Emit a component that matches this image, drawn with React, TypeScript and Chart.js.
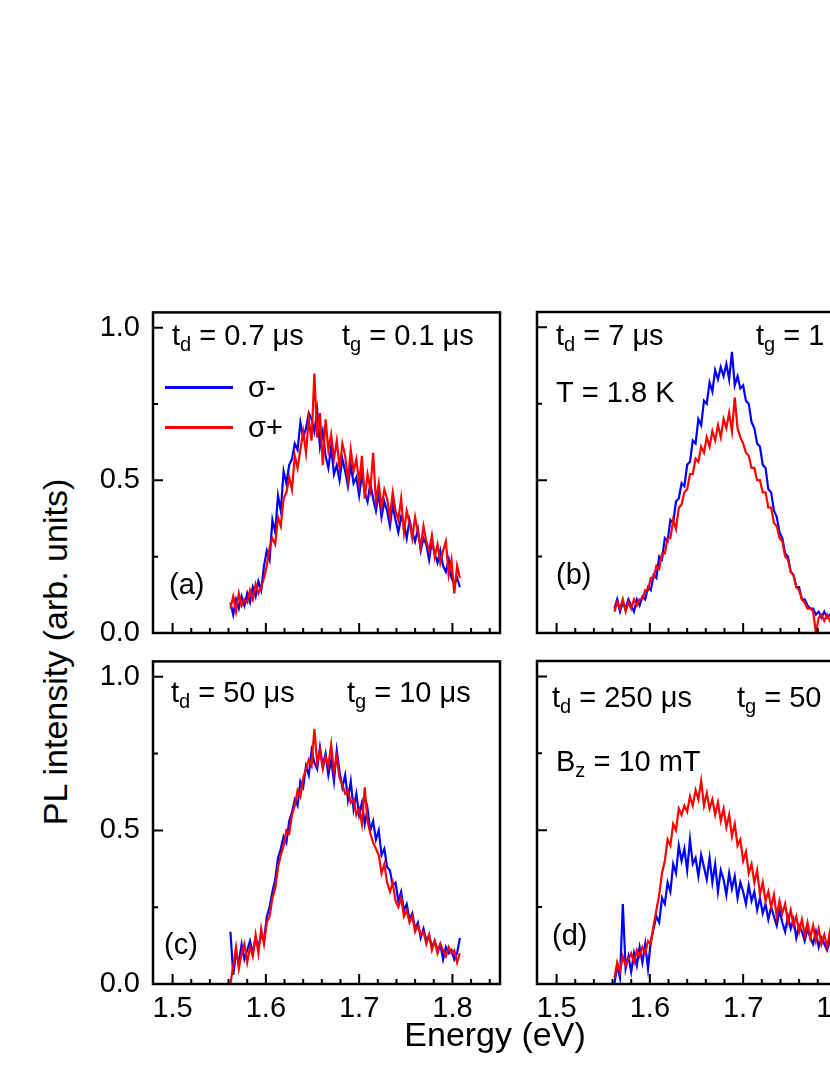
import React, { useEffect, useRef } from "react";
import { Chart, registerables } from "chart.js";

Chart.register(...registerables);

// ---------------- data ----------------
const ENERGY = [
  1.562, 1.565, 1.568, 1.571, 1.574, 1.577, 1.58, 1.583, 1.586, 1.589,
  1.592, 1.595, 1.598, 1.601, 1.604, 1.607, 1.61, 1.613, 1.616, 1.619,
  1.622, 1.625, 1.628, 1.631, 1.634, 1.637, 1.64, 1.643, 1.646, 1.649,
  1.652, 1.655, 1.658, 1.661, 1.664, 1.667, 1.67, 1.673, 1.676, 1.679,
  1.682, 1.685, 1.688, 1.691, 1.694, 1.697, 1.7, 1.703, 1.706, 1.709,
  1.712, 1.715, 1.718, 1.721, 1.724, 1.727, 1.73, 1.733, 1.736, 1.739,
  1.742, 1.745, 1.748, 1.751, 1.754, 1.757, 1.76, 1.763, 1.766, 1.769,
  1.772, 1.775, 1.778, 1.781, 1.784, 1.787, 1.79, 1.793, 1.796, 1.799,
  1.802, 1.805, 1.808,
];

// (a) td = 0.7 us
const BLUE_A = [
  0.10, 0.06, 0.11, 0.08, 0.12, 0.09, 0.13, 0.10, 0.15, 0.12,
  0.17, 0.14, 0.22, 0.27, 0.24, 0.37, 0.33, 0.45, 0.40, 0.53,
  0.49, 0.55, 0.57, 0.62, 0.60, 0.69, 0.64, 0.67, 0.72, 0.70,
  0.66, 0.73, 0.61, 0.66, 0.58, 0.54, 0.61, 0.52, 0.55, 0.50,
  0.57, 0.53, 0.48, 0.55, 0.49, 0.51, 0.45, 0.52, 0.46, 0.43,
  0.49, 0.44, 0.40, 0.46, 0.38, 0.43, 0.40, 0.35, 0.42, 0.37,
  0.33, 0.38, 0.36, 0.31, 0.37, 0.33, 0.30, 0.34, 0.27, 0.31,
  0.29, 0.24, 0.30, 0.26, 0.23, 0.27, 0.22, 0.20, 0.24, 0.18,
  0.16, 0.18, 0.15,
];
const RED_A = [
  0.08, 0.12, 0.07, 0.13, 0.09, 0.11, 0.10, 0.14, 0.11, 0.16,
  0.13, 0.15, 0.18, 0.22, 0.28, 0.31, 0.29, 0.38, 0.35, 0.44,
  0.46, 0.51, 0.47, 0.58, 0.54, 0.60, 0.66, 0.59, 0.70, 0.63,
  0.85, 0.64, 0.72, 0.55, 0.70, 0.60, 0.65, 0.57, 0.63, 0.54,
  0.62, 0.58, 0.50, 0.60, 0.53, 0.57, 0.49, 0.58, 0.44, 0.52,
  0.47, 0.59, 0.43, 0.49, 0.41, 0.47, 0.44, 0.38, 0.46, 0.40,
  0.37, 0.44, 0.33, 0.40, 0.36, 0.31, 0.38, 0.33, 0.28, 0.35,
  0.30, 0.27, 0.32, 0.25, 0.29, 0.23, 0.27, 0.30, 0.19, 0.24,
  0.13, 0.22, 0.18,
];

// (b) td = 7 us
const BLUE_B = [
  0.08, 0.11, 0.07, 0.10, 0.08, 0.11, 0.09, 0.07, 0.11, 0.09,
  0.12, 0.11, 0.15, 0.14, 0.19, 0.18, 0.25, 0.24, 0.31, 0.30,
  0.37, 0.36, 0.43, 0.44, 0.49, 0.48, 0.55, 0.56, 0.63, 0.62,
  0.70, 0.68, 0.76, 0.75, 0.82, 0.79, 0.86, 0.83, 0.87, 0.84,
  0.88, 0.83, 0.92, 0.81, 0.84, 0.80, 0.81, 0.76, 0.75, 0.69,
  0.67, 0.62, 0.61, 0.55, 0.54, 0.47, 0.46, 0.40, 0.38, 0.33,
  0.31, 0.26, 0.25, 0.20, 0.19, 0.15, 0.15, 0.11, 0.11, 0.09,
  0.08, 0.08, 0.06, 0.07, 0.05, 0.07, 0.05, 0.06, 0.04, 0.06,
  0.05, 0.04, 0.05,
];
const RED_B = [
  0.07, 0.10, 0.08, 0.11, 0.07, 0.10, 0.08, 0.11, 0.09, 0.11,
  0.11, 0.14, 0.14, 0.18, 0.18, 0.22, 0.21, 0.26, 0.26, 0.31,
  0.31, 0.37, 0.34, 0.41, 0.42, 0.46, 0.47, 0.52, 0.52, 0.57,
  0.56, 0.61, 0.59, 0.64, 0.61, 0.66, 0.63, 0.68, 0.64, 0.70,
  0.67, 0.72, 0.66, 0.77, 0.67, 0.64, 0.62, 0.59, 0.58, 0.54,
  0.54, 0.50, 0.50, 0.46, 0.46, 0.41, 0.41, 0.36, 0.35, 0.31,
  0.30, 0.25, 0.24, 0.20, 0.19, 0.15, 0.14, 0.11, 0.10, 0.08,
  0.08, 0.07, 0.00, 0.05, 0.06, 0.04, 0.06, 0.04, 0.06, 0.04,
  0.05, 0.04, 0.05,
];

// (c) td = 50 us
const BLUE_C = [
  0.17, 0.03, 0.10, 0.07, 0.13, 0.08, 0.11, 0.14, 0.10, 0.15,
  0.12, 0.16, 0.14, 0.22, 0.25, 0.30, 0.34, 0.41, 0.44, 0.48,
  0.46, 0.53, 0.56, 0.60, 0.58, 0.66, 0.64, 0.71, 0.68, 0.76,
  0.72, 0.70, 0.77, 0.71, 0.75, 0.68, 0.73, 0.66, 0.76, 0.69,
  0.64, 0.68, 0.60, 0.66, 0.57, 0.62, 0.55, 0.59, 0.52, 0.57,
  0.50, 0.53, 0.47, 0.50, 0.42, 0.44, 0.38, 0.37, 0.32, 0.33,
  0.27, 0.30, 0.24, 0.26, 0.21, 0.23, 0.18, 0.20, 0.15, 0.18,
  0.14, 0.16, 0.12, 0.14, 0.11, 0.13, 0.08, 0.12, 0.10, 0.11,
  0.08, 0.10, 0.15,
];
const RED_C = [
  0.00, 0.06, 0.12, 0.05, 0.10, 0.13, 0.07, 0.12, 0.09, 0.16,
  0.10, 0.18, 0.13, 0.20, 0.22, 0.28, 0.31, 0.38, 0.42, 0.45,
  0.50, 0.49, 0.55, 0.58, 0.63, 0.61, 0.67, 0.70, 0.73, 0.71,
  0.83, 0.72, 0.76, 0.70, 0.74, 0.71, 0.78, 0.69, 0.74, 0.67,
  0.65, 0.62, 0.63, 0.59, 0.60, 0.55, 0.57, 0.52, 0.64, 0.53,
  0.49, 0.46, 0.44, 0.42, 0.36, 0.39, 0.33, 0.30, 0.33, 0.27,
  0.25, 0.28, 0.22, 0.24, 0.20, 0.22, 0.17, 0.19, 0.16, 0.17,
  0.13, 0.16, 0.11, 0.14, 0.10, 0.13, 0.11, 0.09, 0.12, 0.10,
  0.11, 0.07, 0.10,
];

// (d) td = 250 us
const BLUE_D = [
  0.00, 0.06, 0.02, 0.26, 0.05, 0.09, 0.04, 0.10, 0.06, 0.12,
  0.07, 0.13, 0.05, 0.14, 0.18, 0.22, 0.20, 0.28, 0.26, 0.33,
  0.30, 0.39, 0.36, 0.45, 0.40, 0.44, 0.37, 0.47, 0.39, 0.41,
  0.35, 0.42, 0.38, 0.34, 0.41, 0.33, 0.39, 0.30, 0.37, 0.34,
  0.29, 0.36, 0.31, 0.35, 0.28, 0.33, 0.30, 0.26, 0.32, 0.27,
  0.30, 0.24, 0.28, 0.23, 0.26, 0.21, 0.25, 0.22, 0.19, 0.24,
  0.20, 0.17, 0.22, 0.18, 0.21, 0.15, 0.19, 0.17, 0.14, 0.18,
  0.15, 0.13, 0.17, 0.12, 0.15, 0.13, 0.11, 0.14, 0.12, 0.13,
  0.11, 0.13, 0.12,
];
const RED_D = [
  0.02, 0.07, 0.04, 0.09, 0.06, 0.08, 0.10, 0.07, 0.11, 0.09,
  0.12, 0.10, 0.14, 0.13, 0.19, 0.24, 0.29, 0.36, 0.40, 0.47,
  0.45, 0.52, 0.50, 0.57, 0.55, 0.58, 0.56, 0.61, 0.58, 0.63,
  0.60, 0.66, 0.58, 0.62, 0.57, 0.60, 0.55, 0.59, 0.53, 0.57,
  0.51, 0.55, 0.48, 0.52, 0.45, 0.47, 0.40, 0.43, 0.36, 0.39,
  0.33, 0.37, 0.29, 0.33, 0.27, 0.30, 0.25, 0.29, 0.22, 0.27,
  0.23, 0.26, 0.20, 0.24, 0.19, 0.22, 0.17, 0.21, 0.16, 0.20,
  0.15, 0.19, 0.14, 0.18, 0.13, 0.16, 0.12, 0.17, 0.11, 0.14,
  0.12, 0.10, 0.13,
];

const SERIES_LABELS = ["σ-", "σ+"];
const X_MAJOR = [1.5, 1.6, 1.7, 1.8];
const X_MINOR = [1.52, 1.54, 1.56, 1.58, 1.62, 1.64, 1.66, 1.68, 1.72, 1.74, 1.76, 1.78, 1.82, 1.84];
const Y_MAJOR = [0, 0.5, 1.0];
const Y_MINOR = [0.25, 0.75];
const X_MIN = 1.479;
const X_MAX = 1.851;
const Y_MAX = 1.05;

const Y_TITLE = "PL intensity (arb. units)";
const X_TITLE = "Energy (eV)";

// ---------------- layout / style ----------------
const FONT = '"Liberation Sans", Arial, Helvetica, sans-serif';
const BLUE = "#0000ff";
const RED = "#ff0000";
const PLOT_W = 347;
const YW = 70;
const XH = 60;
const PT = 30;
const PR = 30;
const MAIN_PX = 29;
const SUB_PX = 20;

type Part = { t: string; sub?: boolean };
type Note = { dx: number; dy: number; parts: Part[] };

const PANELS = [
  {
    key: "a", left: 153, top: 312, h: 321, blue: BLUE_A, red: RED_A, showX: false, showY: true, legend: true,
    notes: [
      { dx: 19, dy: 33, parts: [{ t: "t" }, { t: "d", sub: true }, { t: " = 0.7 μs" }] },
      { dx: 189, dy: 33, parts: [{ t: "t" }, { t: "g", sub: true }, { t: " = 0.1 μs" }] },
      { dx: 16, dy: 282, parts: [{ t: "(a)" }] },
    ] as Note[],
  },
  {
    key: "b", left: 537, top: 312, h: 321, blue: BLUE_B, red: RED_B, showX: false, showY: false, legend: false,
    notes: [
      { dx: 19, dy: 33, parts: [{ t: "t" }, { t: "d", sub: true }, { t: " = 7 μs" }] },
      { dx: 219, dy: 33, parts: [{ t: "t" }, { t: "g", sub: true }, { t: " = 1 μs" }] },
      { dx: 19, dy: 90, parts: [{ t: "T = 1.8 K" }] },
      { dx: 19, dy: 272, parts: [{ t: "(b)" }] },
    ] as Note[],
  },
  {
    key: "c", left: 153, top: 661, h: 323, blue: BLUE_C, red: RED_C, showX: true, showY: true, legend: false,
    notes: [
      { dx: 18, dy: 41, parts: [{ t: "t" }, { t: "d", sub: true }, { t: " = 50 μs" }] },
      { dx: 194, dy: 41, parts: [{ t: "t" }, { t: "g", sub: true }, { t: " = 10 μs" }] },
      { dx: 11, dy: 293, parts: [{ t: "(c)" }] },
    ] as Note[],
  },
  {
    key: "d", left: 537, top: 661, h: 323, blue: BLUE_D, red: RED_D, showX: true, showY: false, legend: false,
    notes: [
      { dx: 15, dy: 46, parts: [{ t: "t" }, { t: "d", sub: true }, { t: " = 250 μs" }] },
      { dx: 200, dy: 46, parts: [{ t: "t" }, { t: "g", sub: true }, { t: " = 50 μs" }] },
      { dx: 19, dy: 110, parts: [{ t: "B" }, { t: "z", sub: true }, { t: " = 10 mT" }] },
      { dx: 15, dy: 284, parts: [{ t: "(d)" }] },
    ] as Note[],
  },
];

function makeFramePlugin(notes: Note[], legend: boolean) {
  return {
    id: "frameAndNotes",
    afterDatasetsDraw(chart: any) {
      const { ctx, chartArea: a, scales } = chart;
      const x = scales.x;
      const y = scales.y;
      ctx.save();
      ctx.strokeStyle = "#000";
      ctx.lineWidth = 2.5;
      ctx.strokeRect(a.left, a.top, a.right - a.left, a.bottom - a.top);
      ctx.lineWidth = 2;
      ctx.beginPath();
      X_MAJOR.forEach((v) => {
        const px = x.getPixelForValue(v);
        ctx.moveTo(px, a.bottom);
        ctx.lineTo(px, a.bottom - 10);
      });
      X_MINOR.forEach((v) => {
        const px = x.getPixelForValue(v);
        ctx.moveTo(px, a.bottom);
        ctx.lineTo(px, a.bottom - 5);
      });
      Y_MAJOR.forEach((v) => {
        const py = y.getPixelForValue(v);
        ctx.moveTo(a.left, py);
        ctx.lineTo(a.left + 10, py);
      });
      Y_MINOR.forEach((v) => {
        const py = y.getPixelForValue(v);
        ctx.moveTo(a.left, py);
        ctx.lineTo(a.left + 5, py);
      });
      ctx.stroke();

      ctx.fillStyle = "#000";
      ctx.textBaseline = "alphabetic";
      ctx.textAlign = "left";
      notes.forEach((n) => {
        let cx = a.left + n.dx;
        const by = a.top + n.dy;
        n.parts.forEach((p) => {
          ctx.font = p.sub ? `${SUB_PX}px ${FONT}` : `${MAIN_PX}px ${FONT}`;
          ctx.fillText(p.t, cx, p.sub ? by + 6 : by);
          cx += ctx.measureText(p.t).width;
        });
      });

      if (legend) {
        const ds = chart.data.datasets;
        const rows = [
          { ds: ds[1], dy: 75, tdy: 85 },
          { ds: ds[0], dy: 115, tdy: 125 },
        ];
        rows.forEach((r) => {
          ctx.strokeStyle = r.ds.borderColor;
          ctx.lineWidth = 3;
          ctx.beginPath();
          ctx.moveTo(a.left + 12, a.top + r.dy);
          ctx.lineTo(a.left + 80, a.top + r.dy);
          ctx.stroke();
          ctx.font = `${MAIN_PX}px ${FONT}`;
          ctx.fillStyle = "#000";
          ctx.fillText(r.ds.label, a.left + 95, a.top + r.tdy);
        });
      }
      ctx.restore();
    },
  };
}

function Panel({ p }: { p: (typeof PANELS)[number] }) {
  const ref = useRef<HTMLCanvasElement>(null);
  const W = YW + PLOT_W + PR;
  const H = PT + p.h + XH;
  useEffect(() => {
    const toPts = (vals: number[]) => ENERGY.map((e, i) => ({ x: e, y: vals[i] }));
    const chart = new Chart(ref.current as HTMLCanvasElement, {
      type: "line",
      data: {
        datasets: [
          {
            label: SERIES_LABELS[1],
            data: toPts(p.red),
            borderColor: RED,
            backgroundColor: RED,
            borderWidth: 2.2,
            pointRadius: 0,
            tension: 0,
            order: 0,
          },
          {
            label: SERIES_LABELS[0],
            data: toPts(p.blue),
            borderColor: BLUE,
            backgroundColor: BLUE,
            borderWidth: 2.2,
            pointRadius: 0,
            tension: 0,
            order: 1,
          },
        ],
      },
      options: {
        responsive: false,
        animation: false,
        events: [],
        layout: { padding: { top: PT, right: PR, left: 0, bottom: 0 } },
        plugins: { legend: { display: false }, tooltip: { enabled: false } },
        scales: {
          x: {
            type: "linear",
            min: X_MIN,
            max: X_MAX,
            grid: { display: false, drawTicks: false },
            border: { display: false },
            ticks: {
              display: p.showX,
              padding: 8,
              color: "#000",
              font: { family: FONT, size: MAIN_PX },
              callback: (v: any) => Number(v).toFixed(1),
            },
            afterBuildTicks: (s: any) => {
              s.ticks = X_MAJOR.map((v) => ({ value: v }));
            },
            afterFit: (s: any) => {
              s.height = XH;
            },
          },
          y: {
            type: "linear",
            min: 0,
            max: Y_MAX,
            grid: { display: false, drawTicks: false },
            border: { display: false },
            ticks: {
              display: p.showY,
              padding: 13,
              color: "#000",
              font: { family: FONT, size: MAIN_PX },
              callback: (v: any) => Number(v).toFixed(1),
            },
            afterBuildTicks: (s: any) => {
              s.ticks = Y_MAJOR.map((v) => ({ value: v }));
            },
            afterFit: (s: any) => {
              s.width = YW;
            },
          },
        },
      },
      plugins: [makeFramePlugin(p.notes, p.legend)],
    } as any);
    return () => chart.destroy();
  }, []);
  return (
    <canvas
      ref={ref}
      width={W}
      height={H}
      style={{ position: "absolute", left: p.left - YW, top: p.top - PT, width: W, height: H }}
    />
  );
}

export default function App() {
  return (
    <div
      style={{
        position: "absolute",
        left: 0,
        top: 0,
        width: 830,
        height: 1075,
        overflow: "hidden",
        background: "#fff",
      }}
    >
      {PANELS.map((p) => (
        <Panel key={p.key} p={p} />
      ))}
      <div
        style={{
          position: "absolute",
          left: 55,
          top: 652,
          fontFamily: FONT,
          fontSize: 34,
          lineHeight: "34px",
          whiteSpace: "nowrap",
          color: "#000",
          transform: "translate(-50%, -50%) rotate(-90deg)",
        }}
      >
        {Y_TITLE}
      </div>
      <div
        style={{
          position: "absolute",
          left: 495,
          top: 1034,
          fontFamily: FONT,
          fontSize: 34,
          lineHeight: "34px",
          whiteSpace: "nowrap",
          color: "#000",
          transform: "translate(-50%, -50%)",
        }}
      >
        {X_TITLE}
      </div>
    </div>
  );
}
